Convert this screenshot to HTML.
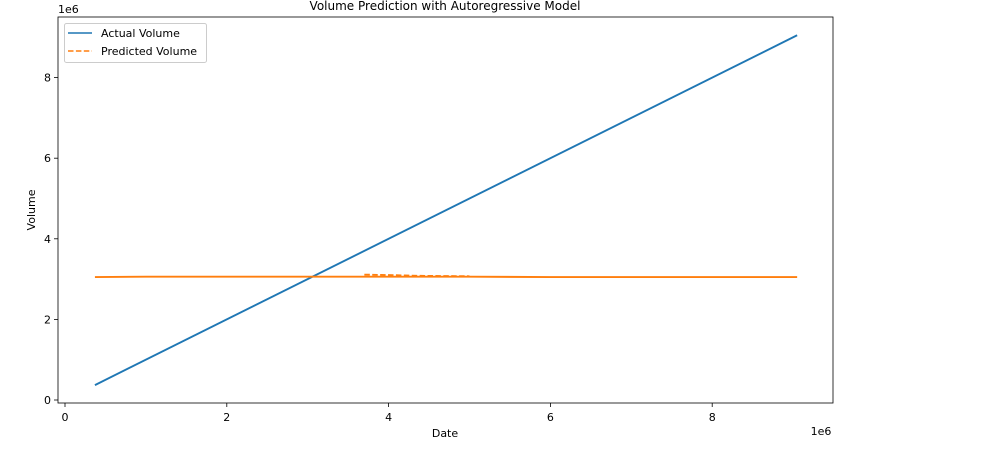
<!DOCTYPE html>
<html><head><meta charset="utf-8"><style>
body{margin:0;background:#fff;font-family:"Liberation Sans","DejaVu Sans",sans-serif}
svg text{font-family:"DejaVu Sans","Liberation Sans",sans-serif;fill:#000}
</style></head><body>
<svg id="chart" width="985" height="451"></svg>
<script>
const actualX=[0.37,9.05];
const actualY=[0.37,9.05];
const predX=[0.37,1.0,2.0,3.0,4.0,5.0,6.0,7.0,8.0,9.05];
const predY=[3.05,3.06,3.06,3.06,3.06,3.06,3.05,3.05,3.05,3.05];
const bumpX=[3.7,4.0,4.4,5.0];
const bumpY=[3.11,3.10,3.08,3.07];
const xTicks=[0,2,4,6,8];
const yTicks=[0,2,4,6,8];
const NS="http://www.w3.org/2000/svg";
const svg=document.getElementById('chart');
const L=58,R=833,T=17,B=403;
function sx(v){return 65+v*80.9;}
function sy(v){return 400-v*40.3;}
function mk(tag,attrs,parent){const e=document.createElementNS(NS,tag);for(const k in attrs)e.setAttribute(k,attrs[k]);(parent||svg).appendChild(e);return e;}
const frame=mk('rect',{x:L,y:T,width:R-L,height:B-T,fill:'none',stroke:'#000','stroke-width':0.8});


xTicks.forEach(t=>{
 const l=mk('line',{x1:sx(t),x2:sx(t),y1:B,y2:B+4,stroke:'#000','stroke-width':0.8});
 
 
 const tx=mk('text',{x:sx(t),y:B+18,'text-anchor':'middle','font-size':11});tx.textContent=t;
 
 
});
yTicks.forEach(t=>{
 const l=mk('line',{x1:L-4,x2:L,y1:sy(t),y2:sy(t),stroke:'#000','stroke-width':0.8});
 
 
 const tx=mk('text',{x:L-7,y:sy(t)+4,'text-anchor':'end','font-size':11});tx.textContent=t;
 
 
});
function pts(xs,ys){return xs.map((x,i)=>sx(x)+','+sy(ys[i])).join(' ');}
const a=mk('polyline',{points:pts(actualX,actualY),fill:'none',stroke:'#1f77b4','stroke-width':1.9});


const p=mk('polyline',{points:pts(predX,predY),fill:'none',stroke:'#ff7f0e','stroke-width':1.9});


const pb=mk('polyline',{points:pts(bumpX,bumpY),fill:'none',stroke:'#ff7f0e','stroke-width':1.9,'stroke-dasharray':'5.5,2.4'});


const texts=[
 ['title','Volume Prediction with Autoregressive Model',445,10,'middle',12],
 ['x-axis-title','Date',445,437,'middle',11],
 ['x-offset-label','1e6',821,435,'middle',11],
 ['y-offset-label','1e6',58,13,'start',11]
];
texts.forEach(([n,s,x,y,a2,fs])=>{const t=mk('text',{x:x,y:y,'text-anchor':a2,'font-size':fs});t.textContent=s;
 
 });
const yt=mk('text',{x:0,y:0,'text-anchor':'middle','font-size':11,transform:'translate(35,210) rotate(-90)'});yt.textContent='Volume';


const lg=mk('g',{});


mk('rect',{x:64.5,y:23.5,width:142,height:39,rx:2,fill:'#fff',stroke:'#ccc'},lg);
mk('line',{x1:68,x2:92,y1:33,y2:33,stroke:'#1f77b4','stroke-width':1.6},lg);
mk('line',{x1:68,x2:92,y1:51,y2:51,stroke:'#ff7f0e','stroke-width':1.6,'stroke-dasharray':'5.5,2.4'},lg);
const t1=mk('text',{x:101,y:37,'font-size':11},lg);t1.textContent='Actual Volume';


const t2=mk('text',{x:101,y:55,'font-size':11},lg);t2.textContent='Predicted Volume';


</script>
</body></html>
